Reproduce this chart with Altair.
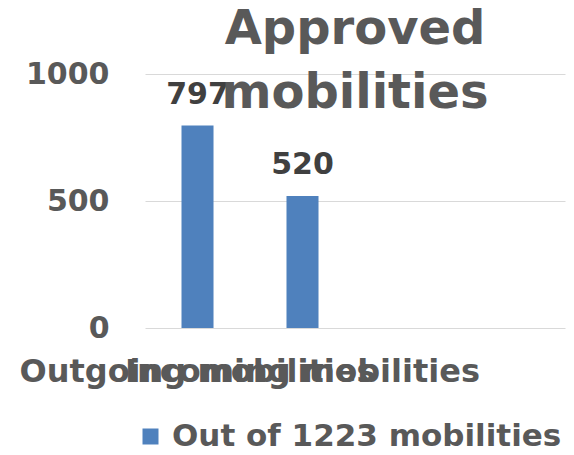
import altair as alt
import pandas as pd

categories = ["Outgoing mobilities", "Incoming mobilities"]
values = [797, 520]
empty_slots = ["slot3", "slot4"]
series = "Out of 1223 mobilities"
title_lines = ["Approved", "mobilities"]
y_ticks = [0, 500, 1000]

df = pd.DataFrame({"category": categories, "value": values, "series": [series] * len(categories)})

FONT = "DejaVu Sans"
GRAY = "#595959"

x_enc = alt.X(
    "category:N",
    scale=alt.Scale(domain=categories + empty_slots, paddingInner=0.695, paddingOuter=0.3476),
    axis=alt.Axis(
        title=None,
        labelAngle=0,
        labelOverlap=False,
        labelLimit=0,
        labelFontSize=32,
        labelFont=FONT,
        labelFontWeight="bold",
        labelColor=GRAY,
        labelPadding=28,
        ticks=False,
        domain=False,
        labelExpr="indexof(['slot3','slot4'], datum.value) >= 0 ? '' : datum.value",
    ),
)
y_enc = alt.Y(
    "value:Q",
    scale=alt.Scale(domain=[0, 1000], nice=False),
    axis=alt.Axis(
        title=None,
        values=y_ticks,
        format="d",
        labelFontSize=30,
        labelFont=FONT,
        labelFontWeight="bold",
        labelColor=GRAY,
        labelPadding=36,
        ticks=False,
        domain=False,
        gridColor="#d9d9d9",
        gridWidth=1,
    ),
)

bars = alt.Chart(df).mark_bar(color="#4f81bd").encode(
    x=x_enc,
    y=y_enc,
    color=alt.Color(
        "series:N",
        scale=alt.Scale(range=["#4f81bd"]),
        legend=alt.Legend(
            title=None,
            orient="none",
            legendX=-10,
            legendY=347,
            padding=0,
            symbolType="square",
            symbolSize=256,
            symbolStrokeWidth=0,
            labelFontSize=31,
            labelFont=FONT,
            labelFontWeight="bold",
            labelColor=GRAY,
            labelLimit=0,
            labelOffset=6,
        ),
    ),
)

labels = alt.Chart(df).mark_text(
    font=FONT, fontSize=30, fontWeight="bold", color="#404040", baseline="middle", dy=-31
).encode(x=alt.X("category:N"), y=alt.Y("value:Q"), text=alt.Text("value:Q"))

chart = (
    alt.layer(bars, labels)
    .properties(
        width=420,
        height=254,
        autosize=alt.AutoSizeParams(type="none"),
        padding={"left": 137, "top": 66, "right": 1, "bottom": 119},
        title=alt.TitleParams(
            text=title_lines,
            font=FONT,
            fontSize=48,
            fontWeight="bold",
            color=GRAY,
            lineHeight=64,
            anchor="middle",
            baseline="alphabetic",
            offset=-97,
        ),
    )
    .configure_view(stroke=None)
)

chart.save("out.html", embed_options={"renderer": "svg", "actions": False})
